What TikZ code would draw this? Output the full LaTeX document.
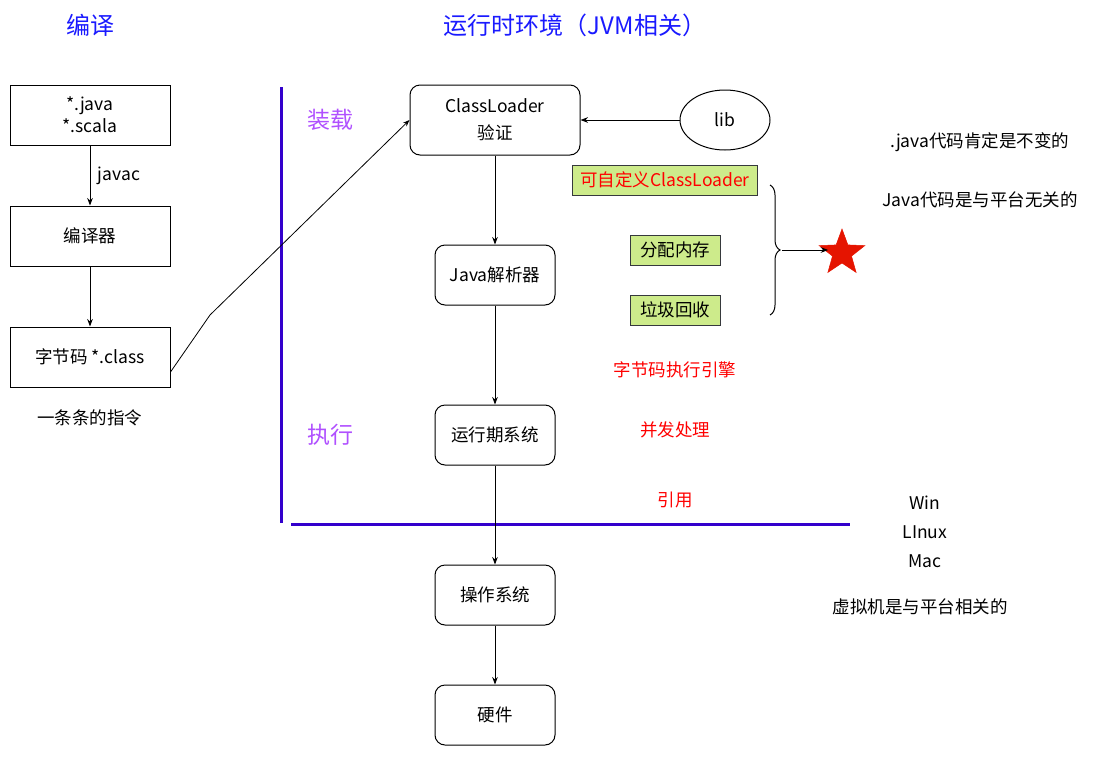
\documentclass[tikz,border=0pt]{standalone}
\usepackage{fontspec}
\setmainfont{Noto Sans CJK SC}
\usepackage[dvipsnames]{xcolor}
\usetikzlibrary{positioning,shapes,decorations.pathreplacing,arrows.meta}

\definecolor{titleblue}{HTML}{1A1AFF}
\definecolor{lineviolet}{HTML}{3300CC}
\definecolor{stageviolet}{HTML}{B050FF}
\definecolor{taggreen}{HTML}{CDEB8B}
\definecolor{tagedge}{HTML}{36393D}
\definecolor{starred}{HTML}{E51400}

\begin{document}
\begin{tikzpicture}[x=1pt,y=-1pt,->,>=Stealth,line width=1pt,node distance=60pt,
    every node/.style={font=\fontsize{17.5}{22}\selectfont},
    src node/.style={draw,rectangle,minimum width=160pt,minimum height=60pt,align=center},
    jvm node/.style={draw,rounded corners=10pt,minimum width=120pt,minimum height=60pt,align=center},
    tag node/.style={draw=tagedge,fill=taggreen,minimum height=30pt,inner xsep=8pt,inner ysep=0pt},
    title node/.style={text=titleblue,font=\fontsize{24}{28}\selectfont},
    stage node/.style={text=stageviolet,font=\fontsize{23}{28}\selectfont},
    red note/.style={text=red},
    divider/.style={-,draw=lineviolet,line width=3pt}]

    \useasboundingbox (0,0) rectangle (1101,756);

    % titles
    \node[title node] (t1) at (90,25) {编译};
    \node[title node] (t2) at (575,25) {运行时环境（JVM相关）};

    % compile side
    \node[src node] (src) at (90,115) {*.java\\*.scala};
    \node[src node,below=of src] (compiler) {编译器};
    \node[src node,below=of compiler] (bytecode) {字节码 *.class};
    \node (instr) at (90,418) {一条条的指令};

    \path (src) edge node[right,xshift=4pt] {javac} (compiler)
          (compiler) edge (bytecode);

    % dividers
    \coordinate (vtop) at (281,87);
    \coordinate (vbot) at (281,523);
    \coordinate (hleft) at (291,524);
    \coordinate (hright) at (850,524);
    \draw[divider] (vtop) -- (vbot);
    \draw[divider] (hleft) -- (hright);

    \node[stage node] (load) at (330,120) {装载};
    \node[stage node] (exec) at (330,435) {执行};

    % jvm side
    \node[jvm node,minimum width=170pt,minimum height=70pt] (loader) at (495,120) {ClassLoader\\[5pt]验证};
    \node[draw,ellipse,minimum width=90pt,minimum height=60pt] (lib) at (725,120) {lib};
    \node[jvm node] (interp) at (495,275) {Java解析器};
    \node[jvm node] (runtime) at (495,435) {运行期系统};
    \node[jvm node] (os) at (495,595) {操作系统};
    \node[jvm node] (hw) at (495,715) {硬件};

    \draw (lib) -- (loader);
    \draw (loader) -- (interp);
    \draw (interp) -- (runtime);
    \draw (runtime) -- (os);
    \draw (os) -- (hw);

    \coordinate (bend) at (210,315);
    \draw[line width=0.8pt] ([yshift=-15pt]bytecode.east) -- (bend) -- (loader.west);

    % features
    \node[tag node,text=red] (custom) at (665,180) {可自定义ClassLoader};
    \node[tag node,minimum width=90pt] (alloc) at (675,250) {分配内存};
    \node[tag node,minimum width=90pt] (gc) at (675,310) {垃圾回收};

    \draw[-,decorate,decoration={brace,amplitude=10pt}] (770,185) -- (770,315);
    \coordinate (brtip) at (782,250);
    \node[star,star points=5,star point ratio=2.4,fill=starred,draw=starred,line width=0.5pt,minimum size=48pt,inner sep=0pt] (mark) at (842,253) {};
    \draw (brtip) -- (brtip -| mark.west);

    \node[red note] (engine) at (675,370) {字节码执行引擎};
    \node[red note] (conc) at (675,430) {并发处理};
    \node[red note] (ref) at (675,500) {引用};

    % notes
    \node (n1) at (980,142) {.java代码肯定是不变的};
    \node (n2) at (980,200) {Java代码是与平台无关的};
    \node (win) at (925,503) {Win};
    \node (linux) at (925,532) {LInux};
    \node (mac) at (925,561) {Mac};
    \node (n3) at (920,607) {虚拟机是与平台相关的};

\end{tikzpicture}
\end{document}
